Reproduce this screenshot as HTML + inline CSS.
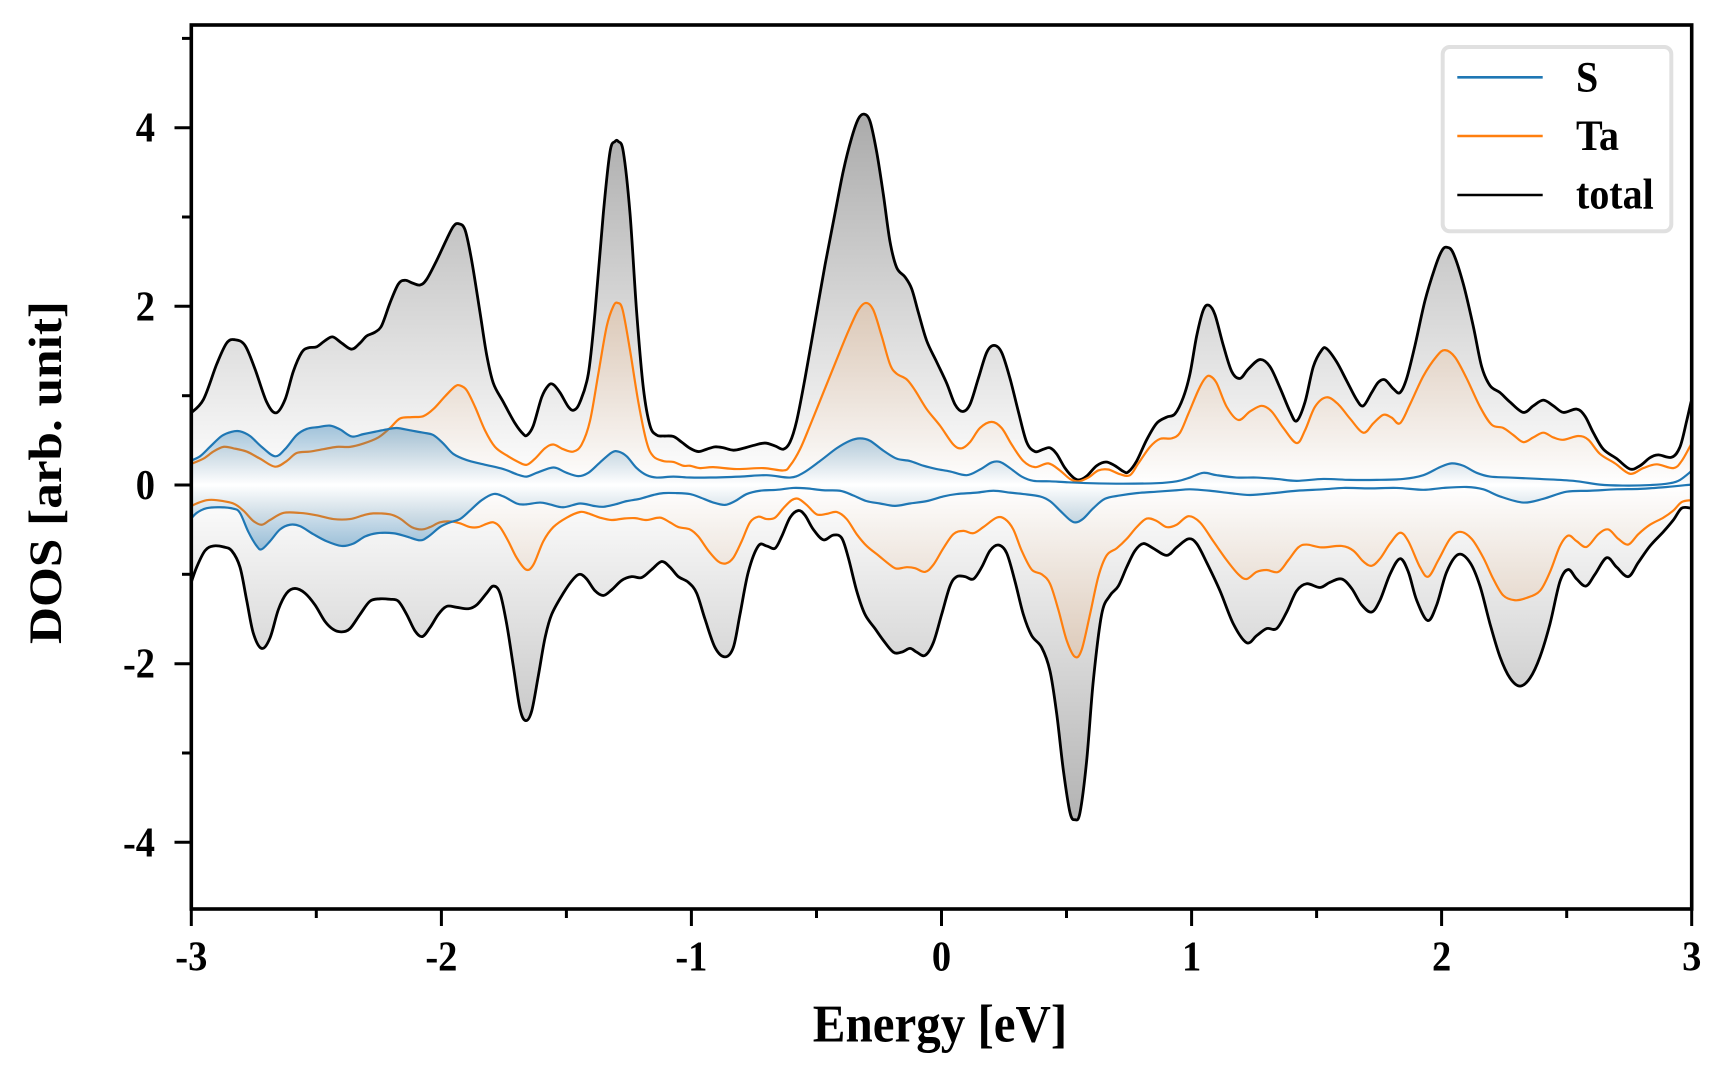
<!DOCTYPE html>
<html><head><meta charset="utf-8"><style>
html,body{margin:0;padding:0;background:#fff;}
svg{display:block;}
text{font-family:"Liberation Serif","Times New Roman",serif;font-weight:bold;fill:#000;}
</style></head><body>
<svg width="1728" height="1080" viewBox="0 0 1728 1080" xmlns="http://www.w3.org/2000/svg">
<defs>
<linearGradient id="gTU" gradientUnits="userSpaceOnUse" x1="0" y1="815.8" x2="0" y2="-130.7"><stop offset="0" stop-color="#000" stop-opacity="0"/><stop offset="1" stop-color="#000" stop-opacity="0.4"/></linearGradient>
<linearGradient id="gTD" gradientUnits="userSpaceOnUse" x1="0" y1="815.8" x2="0" y2="1762.3"><stop offset="0" stop-color="#000" stop-opacity="0"/><stop offset="1" stop-color="#000" stop-opacity="0.4"/></linearGradient>
<linearGradient id="gAU" gradientUnits="userSpaceOnUse" x1="0" y1="815.8" x2="0" y2="-130.7"><stop offset="0" stop-color="#ff7f0e" stop-opacity="0"/><stop offset="1" stop-color="#ff7f0e" stop-opacity="0.375"/></linearGradient>
<linearGradient id="gAD" gradientUnits="userSpaceOnUse" x1="0" y1="815.8" x2="0" y2="1762.3"><stop offset="0" stop-color="#ff7f0e" stop-opacity="0"/><stop offset="1" stop-color="#ff7f0e" stop-opacity="0.375"/></linearGradient>
<linearGradient id="gSU" gradientUnits="userSpaceOnUse" x1="0" y1="815.8" x2="0" y2="626.5"><stop offset="0" stop-color="#1f77b4" stop-opacity="0"/><stop offset="1" stop-color="#1f77b4" stop-opacity="0.58"/></linearGradient>
<linearGradient id="gSD" gradientUnits="userSpaceOnUse" x1="0" y1="815.8" x2="0" y2="1005.1"><stop offset="0" stop-color="#1f77b4" stop-opacity="0"/><stop offset="1" stop-color="#1f77b4" stop-opacity="0.58"/></linearGradient>
<clipPath id="axclip"><rect x="191" y="25" width="1501" height="884"/></clipPath>
</defs>

<g clip-path="url(#axclip)">
<g transform="translate(190,100) scale(0.333333,0.471921)" fill="none" stroke-linejoin="round" stroke-linecap="round">
<!-- total fills -->
<path class="sm f" fill="url(#gTU)" stroke="none" d="M0,815.8 L0,665 40,635 80,560 110,515 135,508 165,520 195,570 230,640 258,663 285,635 310,575 335,535 355,525 380,523 405,510 428,502 455,515 485,528 510,515 530,500 555,492 575,478 600,430 625,390 645,382 668,388 690,392 710,380 740,340 770,295 790,268 805,262 825,275 845,340 870,450 890,540 910,600 940,640 975,685 1000,708 1012,710 1030,690 1055,630 1075,605 1090,603 1110,620 1135,650 1152,657 1170,640 1195,580 1215,450 1240,240 1260,110 1275,88 1285,88 1300,110 1320,240 1340,450 1360,610 1380,690 1400,710 1420,712 1450,713 1475,725 1500,738 1525,745 1550,740 1575,735 1600,737 1630,742 1660,738 1690,732 1725,727 1755,733 1780,740 1800,725 1820,680 1845,590 1875,470 1905,350 1935,240 1960,150 1985,80 2005,40 2022,30 2040,45 2060,110 2080,200 2100,300 2120,355 2145,375 2165,400 2185,450 2210,510 2240,555 2270,600 2295,645 2318,660 2340,645 2365,590 2390,535 2412,520 2435,535 2460,590 2485,660 2510,725 2535,745 2560,740 2580,737 2600,750 2625,780 2650,800 2668,805 2690,797 2720,775 2748,767 2775,775 2800,787 2815,788 2840,765 2870,720 2900,685 2930,672 2955,665 2980,630 3000,580 3020,500 3040,445 3057,435 3075,455 3100,520 3125,575 3150,590 3175,570 3210,550 3240,565 3270,610 3300,660 3320,680 3345,640 3370,565 3395,530 3410,527 3440,555 3470,595 3500,635 3520,648 3545,620 3565,598 3585,593 3610,612 3630,620 3650,590 3675,520 3705,425 3735,355 3755,320 3770,312 3790,325 3820,390 3850,480 3875,565 3900,605 3930,620 3960,640 4000,662 4030,648 4060,636 4090,648 4120,662 4160,655 4185,670 4210,705 4240,740 4280,760 4320,782 4350,775 4380,758 4405,752 4445,757 4470,735 4490,680 4503,640 L4503,815.8 Z"/>
<path class="sm f" fill="url(#gTD)" stroke="none" d="M0,815.8 L0,1030 20,990 45,955 70,945 100,947 125,955 150,990 170,1060 190,1130 215,1162 240,1140 265,1080 290,1045 315,1035 345,1045 375,1070 405,1105 430,1122 455,1127 480,1120 510,1090 540,1062 570,1057 600,1058 625,1062 650,1090 675,1125 697,1137 720,1118 745,1090 770,1073 800,1075 835,1078 860,1070 890,1045 910,1030 930,1045 950,1110 970,1200 990,1290 1007,1315 1025,1295 1045,1220 1065,1140 1085,1090 1120,1045 1150,1015 1170,1005 1190,1015 1215,1040 1240,1050 1265,1038 1295,1018 1325,1010 1355,1012 1385,995 1415,978 1440,990 1465,1010 1495,1022 1520,1045 1545,1100 1575,1160 1605,1180 1630,1160 1650,1090 1675,1000 1705,945 1730,945 1755,950 1775,925 1800,885 1825,870 1845,880 1870,910 1900,932 1930,922 1955,928 1975,970 2000,1040 2025,1090 2055,1120 2080,1145 2110,1170 2135,1170 2160,1162 2180,1170 2205,1177 2230,1150 2255,1090 2280,1030 2300,1010 2325,1010 2350,1015 2375,990 2400,955 2425,943 2450,960 2475,1020 2500,1090 2525,1135 2555,1160 2580,1210 2600,1300 2620,1420 2640,1510 2655,1525 2670,1510 2690,1400 2710,1230 2735,1090 2760,1050 2785,1030 2810,990 2835,955 2860,940 2890,950 2930,965 2960,948 2995,930 3020,940 3050,980 3090,1040 3130,1110 3170,1150 3200,1135 3230,1120 3260,1120 3290,1085 3320,1040 3350,1025 3390,1033 3420,1022 3455,1015 3485,1035 3515,1070 3545,1085 3570,1060 3600,1005 3630,972 3655,1000 3680,1060 3713,1103 3740,1070 3770,1000 3805,963 3840,980 3870,1030 3900,1110 3930,1180 3960,1225 3990,1242 4020,1225 4050,1180 4080,1110 4110,1020 4135,995 4160,1015 4188,1030 4215,1005 4250,970 4280,990 4315,1010 4345,980 4380,945 4420,915 4450,890 4475,865 4503,865 L4503,815.8 Z"/>
<!-- total lines -->
<path class="sm" stroke="#000" stroke-width="2.8" vector-effect="non-scaling-stroke" d="M0,665 40,635 80,560 110,515 135,508 165,520 195,570 230,640 258,663 285,635 310,575 335,535 355,525 380,523 405,510 428,502 455,515 485,528 510,515 530,500 555,492 575,478 600,430 625,390 645,382 668,388 690,392 710,380 740,340 770,295 790,268 805,262 825,275 845,340 870,450 890,540 910,600 940,640 975,685 1000,708 1012,710 1030,690 1055,630 1075,605 1090,603 1110,620 1135,650 1152,657 1170,640 1195,580 1215,450 1240,240 1260,110 1275,88 1285,88 1300,110 1320,240 1340,450 1360,610 1380,690 1400,710 1420,712 1450,713 1475,725 1500,738 1525,745 1550,740 1575,735 1600,737 1630,742 1660,738 1690,732 1725,727 1755,733 1780,740 1800,725 1820,680 1845,590 1875,470 1905,350 1935,240 1960,150 1985,80 2005,40 2022,30 2040,45 2060,110 2080,200 2100,300 2120,355 2145,375 2165,400 2185,450 2210,510 2240,555 2270,600 2295,645 2318,660 2340,645 2365,590 2390,535 2412,520 2435,535 2460,590 2485,660 2510,725 2535,745 2560,740 2580,737 2600,750 2625,780 2650,800 2668,805 2690,797 2720,775 2748,767 2775,775 2800,787 2815,788 2840,765 2870,720 2900,685 2930,672 2955,665 2980,630 3000,580 3020,500 3040,445 3057,435 3075,455 3100,520 3125,575 3150,590 3175,570 3210,550 3240,565 3270,610 3300,660 3320,680 3345,640 3370,565 3395,530 3410,527 3440,555 3470,595 3500,635 3520,648 3545,620 3565,598 3585,593 3610,612 3630,620 3650,590 3675,520 3705,425 3735,355 3755,320 3770,312 3790,325 3820,390 3850,480 3875,565 3900,605 3930,620 3960,640 4000,662 4030,648 4060,636 4090,648 4120,662 4160,655 4185,670 4210,705 4240,740 4280,760 4320,782 4350,775 4380,758 4405,752 4445,757 4470,735 4490,680 4503,640"/>
<path class="sm" stroke="#000" stroke-width="2.8" vector-effect="non-scaling-stroke" d="M0,1030 20,990 45,955 70,945 100,947 125,955 150,990 170,1060 190,1130 215,1162 240,1140 265,1080 290,1045 315,1035 345,1045 375,1070 405,1105 430,1122 455,1127 480,1120 510,1090 540,1062 570,1057 600,1058 625,1062 650,1090 675,1125 697,1137 720,1118 745,1090 770,1073 800,1075 835,1078 860,1070 890,1045 910,1030 930,1045 950,1110 970,1200 990,1290 1007,1315 1025,1295 1045,1220 1065,1140 1085,1090 1120,1045 1150,1015 1170,1005 1190,1015 1215,1040 1240,1050 1265,1038 1295,1018 1325,1010 1355,1012 1385,995 1415,978 1440,990 1465,1010 1495,1022 1520,1045 1545,1100 1575,1160 1605,1180 1630,1160 1650,1090 1675,1000 1705,945 1730,945 1755,950 1775,925 1800,885 1825,870 1845,880 1870,910 1900,932 1930,922 1955,928 1975,970 2000,1040 2025,1090 2055,1120 2080,1145 2110,1170 2135,1170 2160,1162 2180,1170 2205,1177 2230,1150 2255,1090 2280,1030 2300,1010 2325,1010 2350,1015 2375,990 2400,955 2425,943 2450,960 2475,1020 2500,1090 2525,1135 2555,1160 2580,1210 2600,1300 2620,1420 2640,1510 2655,1525 2670,1510 2690,1400 2710,1230 2735,1090 2760,1050 2785,1030 2810,990 2835,955 2860,940 2890,950 2930,965 2960,948 2995,930 3020,940 3050,980 3090,1040 3130,1110 3170,1150 3200,1135 3230,1120 3260,1120 3290,1085 3320,1040 3350,1025 3390,1033 3420,1022 3455,1015 3485,1035 3515,1070 3545,1085 3570,1060 3600,1005 3630,972 3655,1000 3680,1060 3713,1103 3740,1070 3770,1000 3805,963 3840,980 3870,1030 3900,1110 3930,1180 3960,1225 3990,1242 4020,1225 4050,1180 4080,1110 4110,1020 4135,995 4160,1015 4188,1030 4215,1005 4250,970 4280,990 4315,1010 4345,980 4380,945 4420,915 4450,890 4475,865 4503,865"/>

<!-- Ta fills -->
<path class="sm f" fill="url(#gAU)" stroke="none" d="M0,815.8 L0,772 40,760 70,745 100,735 130,738 170,745 210,760 255,777 290,765 320,748 360,745 400,740 440,735 480,735 520,728 565,715 600,695 630,675 665,672 700,670 730,655 765,628 795,607 810,605 830,615 855,650 885,700 915,735 950,753 985,767 1010,773 1035,760 1065,738 1090,730 1120,740 1150,745 1175,730 1200,680 1225,580 1250,480 1270,437 1283,430 1298,445 1320,530 1345,640 1370,725 1390,755 1420,765 1450,767 1480,775 1500,775 1530,780 1570,778 1640,782 1720,780 1780,785 1800,775 1830,740 1860,690 1900,620 1940,550 1975,490 2005,445 2028,430 2050,445 2075,500 2100,560 2120,580 2150,592 2175,615 2210,655 2250,690 2290,730 2315,738 2340,725 2370,695 2405,682 2435,695 2465,730 2500,765 2535,778 2575,770 2610,785 2640,803 2665,808 2695,800 2725,785 2755,783 2790,793 2820,795 2845,770 2880,735 2910,718 2945,717 2970,705 2995,665 3025,615 3045,590 3060,585 3080,600 3110,650 3145,678 3180,660 3215,648 3245,660 3280,695 3320,727 3345,700 3375,650 3410,630 3445,645 3480,675 3520,705 3550,685 3580,667 3605,673 3630,685 3660,645 3700,585 3740,543 3765,530 3795,545 3830,590 3870,650 3905,688 3940,695 3970,710 4000,725 4030,715 4060,705 4090,715 4120,720 4165,712 4195,720 4230,750 4275,770 4320,792 4360,780 4400,772 4450,780 4475,765 4503,730 L4503,815.8 Z"/>
<path class="sm f" fill="url(#gAD)" stroke="none" d="M0,815.8 L0,862 20,855 50,848 80,848 130,855 160,870 190,892 215,900 240,890 280,875 330,875 380,880 430,888 480,888 520,880 550,876 600,878 630,887 665,905 695,910 720,905 750,895 780,893 810,897 840,905 865,905 890,898 910,895 930,905 955,935 980,970 1008,995 1030,985 1060,935 1090,905 1130,885 1170,873 1195,876 1230,885 1265,890 1300,887 1335,886 1370,890 1410,885 1440,895 1465,905 1500,910 1525,925 1555,955 1585,978 1608,982 1630,970 1655,935 1680,895 1705,883 1730,888 1755,885 1780,865 1805,848 1825,845 1850,858 1880,878 1910,877 1940,873 1970,888 2000,920 2030,945 2065,965 2100,985 2120,993 2150,990 2175,992 2205,1000 2230,985 2260,950 2290,920 2320,913 2350,918 2380,905 2420,885 2445,888 2470,910 2495,955 2525,995 2555,1005 2580,1025 2605,1080 2630,1145 2655,1180 2675,1165 2700,1090 2725,1010 2750,965 2780,950 2810,930 2840,905 2870,887 2900,892 2930,905 2960,900 2995,882 3030,895 3070,935 3110,975 3145,1005 3170,1015 3200,1000 3230,996 3265,1000 3295,975 3325,948 3350,942 3395,948 3455,945 3490,955 3520,978 3545,987 3570,972 3600,940 3630,917 3655,935 3690,990 3715,1010 3745,975 3780,930 3810,915 3845,930 3880,970 3910,1015 3940,1050 3975,1060 4010,1055 4050,1040 4080,1000 4110,945 4135,923 4160,935 4190,947 4225,920 4255,910 4285,930 4315,942 4345,920 4380,900 4420,885 4450,870 4475,852 4503,848 L4503,815.8 Z"/>
<!-- Ta lines -->
<path class="sm" stroke="#ff7f0e" stroke-width="2.2" vector-effect="non-scaling-stroke" d="M0,772 40,760 70,745 100,735 130,738 170,745 210,760 255,777 290,765 320,748 360,745 400,740 440,735 480,735 520,728 565,715 600,695 630,675 665,672 700,670 730,655 765,628 795,607 810,605 830,615 855,650 885,700 915,735 950,753 985,767 1010,773 1035,760 1065,738 1090,730 1120,740 1150,745 1175,730 1200,680 1225,580 1250,480 1270,437 1283,430 1298,445 1320,530 1345,640 1370,725 1390,755 1420,765 1450,767 1480,775 1500,775 1530,780 1570,778 1640,782 1720,780 1780,785 1800,775 1830,740 1860,690 1900,620 1940,550 1975,490 2005,445 2028,430 2050,445 2075,500 2100,560 2120,580 2150,592 2175,615 2210,655 2250,690 2290,730 2315,738 2340,725 2370,695 2405,682 2435,695 2465,730 2500,765 2535,778 2575,770 2610,785 2640,803 2665,808 2695,800 2725,785 2755,783 2790,793 2820,795 2845,770 2880,735 2910,718 2945,717 2970,705 2995,665 3025,615 3045,590 3060,585 3080,600 3110,650 3145,678 3180,660 3215,648 3245,660 3280,695 3320,727 3345,700 3375,650 3410,630 3445,645 3480,675 3520,705 3550,685 3580,667 3605,673 3630,685 3660,645 3700,585 3740,543 3765,530 3795,545 3830,590 3870,650 3905,688 3940,695 3970,710 4000,725 4030,715 4060,705 4090,715 4120,720 4165,712 4195,720 4230,750 4275,770 4320,792 4360,780 4400,772 4450,780 4475,765 4503,730"/>
<path class="sm" stroke="#ff7f0e" stroke-width="2.2" vector-effect="non-scaling-stroke" d="M0,862 20,855 50,848 80,848 130,855 160,870 190,892 215,900 240,890 280,875 330,875 380,880 430,888 480,888 520,880 550,876 600,878 630,887 665,905 695,910 720,905 750,895 780,893 810,897 840,905 865,905 890,898 910,895 930,905 955,935 980,970 1008,995 1030,985 1060,935 1090,905 1130,885 1170,873 1195,876 1230,885 1265,890 1300,887 1335,886 1370,890 1410,885 1440,895 1465,905 1500,910 1525,925 1555,955 1585,978 1608,982 1630,970 1655,935 1680,895 1705,883 1730,888 1755,885 1780,865 1805,848 1825,845 1850,858 1880,878 1910,877 1940,873 1970,888 2000,920 2030,945 2065,965 2100,985 2120,993 2150,990 2175,992 2205,1000 2230,985 2260,950 2290,920 2320,913 2350,918 2380,905 2420,885 2445,888 2470,910 2495,955 2525,995 2555,1005 2580,1025 2605,1080 2630,1145 2655,1180 2675,1165 2700,1090 2725,1010 2750,965 2780,950 2810,930 2840,905 2870,887 2900,892 2930,905 2960,900 2995,882 3030,895 3070,935 3110,975 3145,1005 3170,1015 3200,1000 3230,996 3265,1000 3295,975 3325,948 3350,942 3395,948 3455,945 3490,955 3520,978 3545,987 3570,972 3600,940 3630,917 3655,935 3690,990 3715,1010 3745,975 3780,930 3810,915 3845,930 3880,970 3910,1015 3940,1050 3975,1060 4010,1055 4050,1040 4080,1000 4110,945 4135,923 4160,935 4190,947 4225,920 4255,910 4285,930 4315,942 4345,920 4380,900 4420,885 4450,870 4475,852 4503,848"/>

<!-- S fills -->
<path class="sm f" fill="url(#gSU)" stroke="none" d="M0,815.8 L0,765 30,755 60,735 95,712 125,703 150,702 180,712 215,735 255,755 285,740 320,710 350,697 385,693 420,690 450,698 485,713 520,708 555,703 590,698 620,695 660,700 700,705 730,710 760,728 790,750 830,763 880,772 940,782 980,793 1010,798 1040,790 1080,780 1100,780 1130,790 1165,797 1195,790 1230,768 1265,747 1285,745 1310,755 1340,780 1370,795 1400,800 1450,798 1500,800 1560,800 1650,798 1730,795 1800,800 1840,790 1890,765 1940,738 1980,722 2010,717 2040,722 2080,743 2120,760 2160,765 2200,775 2240,782 2280,787 2330,795 2370,783 2405,768 2430,767 2460,780 2495,798 2530,807 2580,808 2630,810 2700,812 2800,813 2900,812 2960,808 3000,800 3040,790 3080,795 3140,800 3200,800 3260,803 3320,807 3400,803 3480,805 3560,805 3640,803 3700,795 3750,778 3785,770 3820,775 3860,790 3900,798 3960,800 4050,803 4150,807 4230,815 4300,817 4380,816 4440,812 4470,805 4503,787 L4503,815.8 Z"/>
<path class="sm f" fill="url(#gSD)" stroke="none" d="M0,815.8 L0,890 20,875 50,865 90,863 130,866 150,875 175,915 200,945 215,952 240,935 270,910 300,900 330,903 370,920 410,935 455,945 490,940 525,925 560,918 610,918 650,925 690,933 715,925 750,905 780,895 810,888 840,870 875,848 910,835 940,840 980,855 1005,857 1050,853 1080,857 1120,863 1170,855 1210,860 1240,862 1275,857 1310,850 1350,845 1390,837 1420,833 1460,833 1500,835 1530,842 1570,853 1605,858 1635,850 1670,835 1710,828 1760,826 1810,822 1850,823 1900,827 1950,828 1990,838 2030,850 2070,855 2115,860 2160,855 2210,850 2260,840 2300,835 2360,832 2410,828 2460,832 2500,835 2550,840 2580,850 2610,870 2640,890 2658,895 2680,887 2710,865 2745,845 2790,838 2840,833 2900,830 2960,827 3000,825 3060,828 3120,833 3180,837 3250,833 3320,828 3400,825 3460,822 3540,823 3620,822 3700,826 3760,822 3830,820 3880,825 3930,840 4000,853 4060,845 4130,830 4200,828 4280,825 4350,824 4430,820 4503,815 L4503,815.8 Z"/>
<!-- S lines -->
<path class="sm" stroke="#1f77b4" stroke-width="2.2" vector-effect="non-scaling-stroke" d="M0,765 30,755 60,735 95,712 125,703 150,702 180,712 215,735 255,755 285,740 320,710 350,697 385,693 420,690 450,698 485,713 520,708 555,703 590,698 620,695 660,700 700,705 730,710 760,728 790,750 830,763 880,772 940,782 980,793 1010,798 1040,790 1080,780 1100,780 1130,790 1165,797 1195,790 1230,768 1265,747 1285,745 1310,755 1340,780 1370,795 1400,800 1450,798 1500,800 1560,800 1650,798 1730,795 1800,800 1840,790 1890,765 1940,738 1980,722 2010,717 2040,722 2080,743 2120,760 2160,765 2200,775 2240,782 2280,787 2330,795 2370,783 2405,768 2430,767 2460,780 2495,798 2530,807 2580,808 2630,810 2700,812 2800,813 2900,812 2960,808 3000,800 3040,790 3080,795 3140,800 3200,800 3260,803 3320,807 3400,803 3480,805 3560,805 3640,803 3700,795 3750,778 3785,770 3820,775 3860,790 3900,798 3960,800 4050,803 4150,807 4230,815 4300,817 4380,816 4440,812 4470,805 4503,787"/>
<path class="sm" stroke="#1f77b4" stroke-width="2.2" vector-effect="non-scaling-stroke" d="M0,890 20,875 50,865 90,863 130,866 150,875 175,915 200,945 215,952 240,935 270,910 300,900 330,903 370,920 410,935 455,945 490,940 525,925 560,918 610,918 650,925 690,933 715,925 750,905 780,895 810,888 840,870 875,848 910,835 940,840 980,855 1005,857 1050,853 1080,857 1120,863 1170,855 1210,860 1240,862 1275,857 1310,850 1350,845 1390,837 1420,833 1460,833 1500,835 1530,842 1570,853 1605,858 1635,850 1670,835 1710,828 1760,826 1810,822 1850,823 1900,827 1950,828 1990,838 2030,850 2070,855 2115,860 2160,855 2210,850 2260,840 2300,835 2360,832 2410,828 2460,832 2500,835 2550,840 2580,850 2610,870 2640,890 2658,895 2680,887 2710,865 2745,845 2790,838 2840,833 2900,830 2960,827 3000,825 3060,828 3120,833 3180,837 3250,833 3320,828 3400,825 3460,822 3540,823 3620,822 3700,826 3760,822 3830,820 3880,825 3930,840 4000,853 4060,845 4130,830 4200,828 4280,825 4350,824 4430,820 4503,815"/>
</g>
</g>

<!-- axes frame -->
<rect x="191.3" y="25" width="1500.4" height="884" fill="none" stroke="#000" stroke-width="3.6"/>

<!-- y ticks -->
<g stroke="#000" stroke-width="3">
<line x1="174.5" y1="127.7" x2="191.3" y2="127.7"/>
<line x1="174.5" y1="306.3" x2="191.3" y2="306.3"/>
<line x1="174.5" y1="485" x2="191.3" y2="485"/>
<line x1="174.5" y1="663.7" x2="191.3" y2="663.7"/>
<line x1="174.5" y1="842.3" x2="191.3" y2="842.3"/>
<line x1="182" y1="38.4" x2="191.3" y2="38.4"/>
<line x1="182" y1="217" x2="191.3" y2="217"/>
<line x1="182" y1="395.7" x2="191.3" y2="395.7"/>
<line x1="182" y1="574.3" x2="191.3" y2="574.3"/>
<line x1="182" y1="753" x2="191.3" y2="753"/>
</g>
<!-- x ticks -->
<g stroke="#000" stroke-width="3">
<line x1="191.3" y1="909" x2="191.3" y2="926"/>
<line x1="441.4" y1="909" x2="441.4" y2="926"/>
<line x1="691.4" y1="909" x2="691.4" y2="926"/>
<line x1="941.5" y1="909" x2="941.5" y2="926"/>
<line x1="1191.6" y1="909" x2="1191.6" y2="926"/>
<line x1="1441.6" y1="909" x2="1441.6" y2="926"/>
<line x1="1691.7" y1="909" x2="1691.7" y2="926"/>
<line x1="316.3" y1="909" x2="316.3" y2="918"/>
<line x1="566.4" y1="909" x2="566.4" y2="918"/>
<line x1="816.5" y1="909" x2="816.5" y2="918"/>
<line x1="1066.5" y1="909" x2="1066.5" y2="918"/>
<line x1="1316.6" y1="909" x2="1316.6" y2="918"/>
<line x1="1566.7" y1="909" x2="1566.7" y2="918"/>
</g>

<!-- y tick labels -->
<g font-size="38.5" text-anchor="end">
<text transform="translate(155,141.7) scale(1,1.09)">4</text>
<text transform="translate(155,320.3) scale(1,1.09)">2</text>
<text transform="translate(155,499) scale(1,1.09)">0</text>
<text transform="translate(155,677.7) scale(1,1.09)">-2</text>
<text transform="translate(155,856.3) scale(1,1.09)">-4</text>
</g>
<!-- x tick labels -->
<g font-size="38.5" text-anchor="middle">
<text transform="translate(191.3,970.7) scale(1,1.09)">-3</text>
<text transform="translate(441.4,970.7) scale(1,1.09)">-2</text>
<text transform="translate(691.4,970.7) scale(1,1.09)">-1</text>
<text transform="translate(941.5,970.7) scale(1,1.09)">0</text>
<text transform="translate(1191.6,970.7) scale(1,1.09)">1</text>
<text transform="translate(1441.6,970.7) scale(1,1.09)">2</text>
<text transform="translate(1691.7,970.7) scale(1,1.09)">3</text>
</g>

<!-- axis labels -->
<text font-size="49" text-anchor="middle" transform="translate(940,1041.7) scale(1,1.09)">Energy [eV]</text>
<text font-size="47" text-anchor="middle" transform="translate(61,472.5) rotate(-90) scale(1.09,1)">DOS [arb. unit]</text>

<!-- legend -->
<rect x="1442.7" y="47" width="228.6" height="184.3" rx="7" ry="7" fill="#fff" stroke="#e0e0e0" stroke-width="4"/>
<line x1="1457.3" y1="77.3" x2="1542.7" y2="77.3" stroke="#1f77b4" stroke-width="2.6"/>
<line x1="1457.3" y1="136" x2="1542.7" y2="136" stroke="#ff7f0e" stroke-width="2.6"/>
<line x1="1457.3" y1="195" x2="1542.7" y2="195" stroke="#000" stroke-width="2.6"/>
<g font-size="40">
<text transform="translate(1576,91.7) scale(1,1.09)">S</text>
<text transform="translate(1576,150) scale(1,1.09)">Ta</text>
<text transform="translate(1576,208.3) scale(1,1.09)">total</text>
</g>
</svg>
<script>
(function(){
  var paths = document.querySelectorAll('path.sm');
  for (var k = 0; k < paths.length; k++) {
    var p = paths[k];
    var nums = p.getAttribute('d').match(/-?[\d.]+/g);
    if (!nums) continue;
    var pts = [];
    for (var i = 0; i + 1 < nums.length; i += 2) pts.push([parseFloat(nums[i]), parseFloat(nums[i+1])]);
    var isFill = (' ' + p.getAttribute('class') + ' ').indexOf(' f ') >= 0;
    var base = null, end = null;
    if (isFill) { base = pts.shift(); end = pts.pop(); }
    var n = pts.length;
    if (n < 3) continue;
    var f = function(v){ return Math.round(v * 10) / 10; };
    var d = isFill ? ('M' + base[0] + ',' + base[1] + ' L' + pts[0][0] + ',' + pts[0][1]) : ('M' + pts[0][0] + ',' + pts[0][1]);
    for (var j = 0; j < n - 1; j++) {
      var p0 = pts[Math.max(j - 1, 0)], p1 = pts[j], p2 = pts[j + 1], p3 = pts[Math.min(j + 2, n - 1)];
      var c1x = p1[0] + (p2[0] - p0[0]) / 6, c1y = p1[1] + (p2[1] - p0[1]) / 6;
      var c2x = p2[0] - (p3[0] - p1[0]) / 6, c2y = p2[1] - (p3[1] - p1[1]) / 6;
      d += ' C' + f(c1x) + ',' + f(c1y) + ' ' + f(c2x) + ',' + f(c2y) + ' ' + p2[0] + ',' + p2[1];
    }
    if (isFill) d += ' L' + end[0] + ',' + end[1] + ' Z';
    p.setAttribute('d', d);
  }
})();
</script>
</body></html>
